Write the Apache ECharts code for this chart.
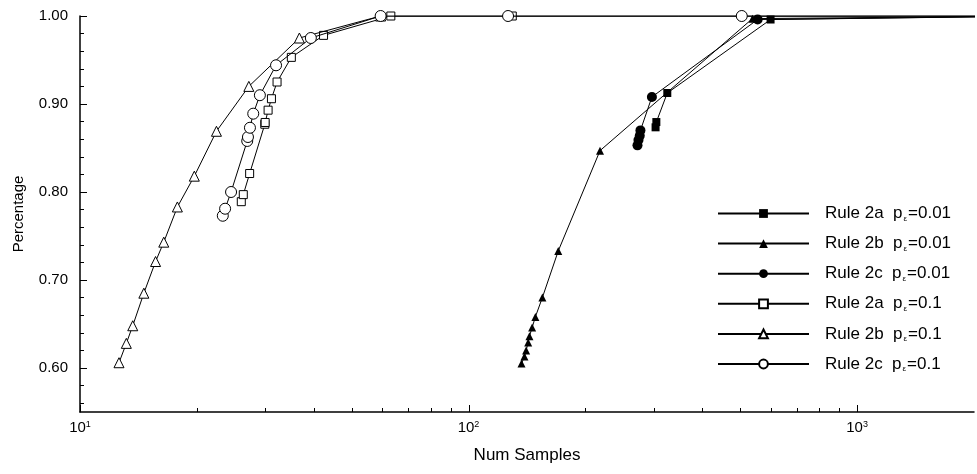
<!DOCTYPE html>
<html>
<head>
<meta charset="utf-8">
<script src="https://cdn.jsdelivr.net/npm/echarts@6/dist/echarts.min.js"></script>
<style>
html,body{margin:0;padding:0;background:#fff;}
#chart{width:977px;height:474px;}
</style>
</head>
<body>
<div id="chart"></div>
<script>
// ---- Data ----
const seriesNames = ['Rule 2a', 'Rule 2b', 'Rule 2c', 'Rule 2a', 'Rule 2b', 'Rule 2c'];
const seriesEps = ['0.01', '0.01', '0.01', '0.1', '0.1', '0.1'];

// Rule 2a p=0.01 (filled squares)
const x2a001 = [303, 304.4, 324.8, 599, 3000];
const y2a001 = [0.8735, 0.8795, 0.9125, 0.996, 1.0];
// Rule 2b p=0.01 (filled triangles)
const x2b001 = [136.9, 139.3, 140.7, 142.4, 143.5, 145.8, 148.6, 154.9, 170.2, 218, 538, 3000];
const y2b001 = [0.605, 0.613, 0.620, 0.629, 0.636, 0.646, 0.658, 0.680, 0.733, 0.847, 0.997, 1.0];
// Rule 2c p=0.01 (filled circles)
const x2c001 = [272.2, 273.8, 275.9, 277, 296.5, 554.8, 3000];
const y2c001 = [0.853, 0.859, 0.864, 0.870, 0.908, 0.996, 1.0];
// Rule 2a p=0.1 (open squares)
const x2a01 = [26.01, 26.32, 27.33, 29.9, 29.96, 30.49, 31.1, 32.15, 34.99, 42.35, 63.1, 129.6, 3000];
const y2a01 = [0.789, 0.797, 0.821, 0.877, 0.879, 0.893, 0.906, 0.925, 0.953, 0.978, 1.0, 1.0, 1.0];
// Rule 2b p=0.1 (open triangles)
const x2b01 = [12.6, 13.16, 13.67, 14.6, 15.65, 16.43, 17.81, 19.69, 22.45, 27.2, 36.7, 59.4, 3000];
const y2b01 = [0.606, 0.628, 0.648, 0.685, 0.721, 0.743, 0.783, 0.818, 0.869, 0.920, 0.975, 1.0, 1.0];
// Rule 2c p=0.1 (open circles)
const x2c01 = [23.31, 23.63, 24.48, 26.94, 27.06, 27.38, 27.92, 29.04, 31.96, 39.28, 59.4, 126.4, 505, 3000];
const y2c01 = [0.773, 0.781, 0.800, 0.858, 0.8625, 0.873, 0.889, 0.910, 0.944, 0.975, 1.0, 1.0, 1.0, 1.0];

// Axis ticks
const xMajorTicks = [10, 100, 1000];
const xMinorTicks = [20, 30, 40, 50, 60, 70, 80, 90, 200, 300, 400, 500, 600, 700, 800, 900];
const yMajorTicks = [0.6, 0.7, 0.8, 0.9, 1.0];
const yMinorTicks = [0.56, 0.58, 0.62, 0.64, 0.66, 0.68, 0.72, 0.74, 0.76, 0.78, 0.82, 0.84, 0.86, 0.88, 0.92, 0.94, 0.96, 0.98];

// ---- Build ----
const FONT = "'Liberation Sans', Arial, sans-serif";
function pts(xs, ys) { return xs.map((x, i) => [x, ys[i]]); }
const dataSets = [
  pts(x2a001, y2a001), pts(x2b001, y2b001), pts(x2c001, y2c001),
  pts(x2a01, y2a01), pts(x2b01, y2b01), pts(x2c01, y2c01)
];
const symbols = ['rect', 'triangle', 'circle', 'rect', 'triangle', 'circle'];
const sizes = [8, 8, 10, 8, 10, 11];
const filled = [true, true, true, false, false, false];
const fullNames = seriesNames.map((n, i) => n + ' p\u03b5=' + seriesEps[i]);

const series = dataSets.map((d, i) => ({
  type: 'line',
  name: fullNames[i],
  data: d,
  symbol: symbols[i],
  symbolSize: sizes[i],
  showAllSymbol: true,
  clip: true,
  lineStyle: { color: '#000', width: 1 },
  itemStyle: filled[i]
    ? { color: '#000', borderColor: '#000', borderWidth: 0 }
    : { color: '#fff', borderColor: '#000', borderWidth: 1 },
  emphasis: { disabled: true },
  z: 2 + i
}));

const chart = echarts.init(document.getElementById('chart'), null, { renderer: 'canvas' });
const option = {
  animation: false,
  backgroundColor: '#fff',
  textStyle: { fontFamily: FONT, color: '#000' },
  grid: { left: 80, right: 0, top: 16, bottom: 62, containLabel: false },
  xAxis: [{
    type: 'log', logBase: 10, min: 10, max: 2000,
    axisLine: { show: true, lineStyle: { color: '#000', width: 1.5 } },
    axisTick: { show: false },
    splitLine: { show: false },
    axisLabel: {
      color: '#000', fontFamily: FONT, margin: 8,
      formatter: function (v) {
        const e = Math.round(Math.log10(v));
        if (Math.abs(Math.pow(10, e) - v) > 1e-6 * v) return '';
        return '{b|10}{s|' + e + '}';
      },
      rich: {
        b: { fontSize: 15, fontFamily: FONT, color: '#000', verticalAlign: 'bottom' },
        s: { fontSize: 9, fontFamily: FONT, color: '#000', verticalAlign: 'top' }
      }
    },
    name: 'Num Samples', nameLocation: 'middle', nameGap: 35,
    nameTextStyle: { fontSize: 17, fontFamily: FONT, color: '#000' }
  }],
  yAxis: [{
    type: 'value', min: 0.55, max: 1.0,
    axisLine: { show: true, lineStyle: { color: '#000', width: 1.5 } },
    axisTick: { show: true, inside: true, length: 7, customValues: yMajorTicks, lineStyle: { color: '#000', width: 1 } },
    axisLabel: { customValues: yMajorTicks, color: '#000', fontSize: 15, fontFamily: FONT, margin: 12,
      formatter: v => v.toFixed(2) },
    splitLine: { show: false },
    name: 'Percentage', nameLocation: 'middle', nameRotate: 90, nameGap: 54,
    nameTextStyle: { fontSize: 15, fontFamily: FONT, color: '#000' }
  }, {
    type: 'value', min: 0.55, max: 1.0, position: 'left',
    axisLine: { show: false },
    axisTick: { show: true, inside: true, length: 4, customValues: yMinorTicks, lineStyle: { color: '#000', width: 1 } },
    axisLabel: { show: false },
    splitLine: { show: false }
  }],
  legend: {
    orient: 'vertical', left: 717, top: 205, padding: 0,
    itemWidth: 91, itemHeight: 11, itemGap: 12.6,
    selectedMode: false,
    data: fullNames,
    formatter: function (name) {
      const i = fullNames.indexOf(name);
      return '{r|' + seriesNames[i] + '  p}{e|\u03b5}{a|=' + seriesEps[i] + '}';
    },
    textStyle: {
      fontFamily: FONT, color: '#000',
      rich: {
        r: { fontSize: 17, lineHeight: 18, fontFamily: FONT, color: '#000', padding: [0, 0, 0, 11] },
        e: { fontSize: 8, fontFamily: FONT, color: '#000', verticalAlign: 'bottom', padding: [0, 1, 0, 1] },
        a: { fontSize: 17, lineHeight: 18, fontFamily: FONT, color: '#000' }
      }
    }
  },
  series: series
};
chart.setOption(option);

// x-axis ticks placed through the library's own log scale
function drawXTicks() {
  const yb = chart.convertToPixel({ yAxisIndex: 0 }, 0.55);
  const g = [];
  xMajorTicks.forEach(v => {
    const px = Math.round(chart.convertToPixel({ xAxisIndex: 0 }, v)) + 0.5;
    g.push({ type: 'line', shape: { x1: px, y1: yb, x2: px, y2: yb - 7 }, style: { stroke: '#000', lineWidth: 1 }, silent: true, z: 10 });
  });
  xMinorTicks.forEach(v => {
    const px = Math.round(chart.convertToPixel({ xAxisIndex: 0 }, v)) + 0.5;
    g.push({ type: 'line', shape: { x1: px, y1: yb, x2: px, y2: yb - 4 }, style: { stroke: '#000', lineWidth: 1 }, silent: true, z: 10 });
  });
  chart.setOption({ graphic: g });
}
drawXTicks();
</script>
</body>
</html>
